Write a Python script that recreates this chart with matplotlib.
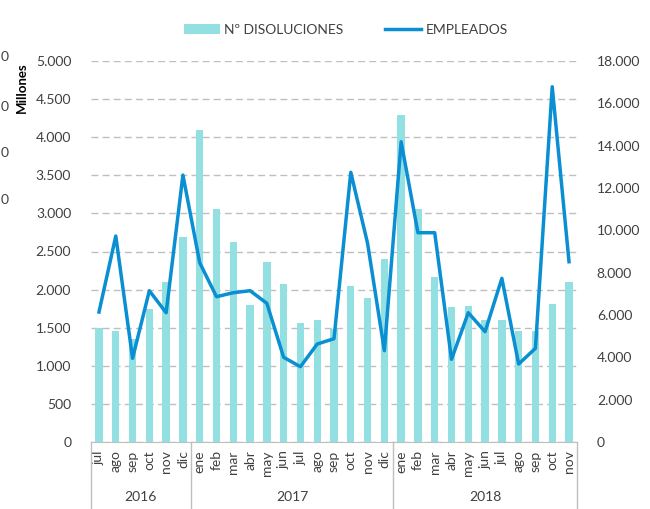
import matplotlib
matplotlib.use("Agg")
import matplotlib.pyplot as plt
from matplotlib.ticker import FuncFormatter, MultipleLocator
from matplotlib.transforms import blended_transform_factory
from matplotlib.patches import Patch
from matplotlib.lines import Line2D

plt.rcParams['font.family'] = ['Lato', 'DejaVu Sans']

months = ["jul", "ago", "sep", "oct", "nov", "dic",
          "ene", "feb", "mar", "abr", "may", "jun", "jul", "ago", "sep", "oct", "nov", "dic",
          "ene", "feb", "mar", "abr", "may", "jun", "jul", "ago", "sep", "oct", "nov"]
years = ["2016", "2017", "2018"]
year_counts = [6, 12, 11]

disoluciones = [1500, 1457, 1348, 1741, 2096, 2690,
                4094, 3062, 2621, 1798, 2362, 2073, 1558, 1605, 1480, 2047, 1894, 2402,
                4295, 3058, 2161, 1768, 1781, 1605, 1605, 1453, 1453, 1815, 2104]
empleados = [6141, 9731, 3953, 7147, 6108, 12612,
             8470, 6864, 7053, 7147, 6552, 4001, 3557, 4629, 4880, 12740, 9386, 4313,
             14185, 9887, 9887, 3906, 6108, 5210, 7732, 3684, 4426, 16783, 8517]

bar_color = "#93E0E3"
line_color = "#0A8FD2"
text_color = "#404040"
grid_color = "#BFBFBF"

fig = plt.figure(figsize=(6.5, 5.09), dpi=100)
ax = fig.add_axes([90.6/650, 1-442/509, (577.4-90.6)/650, (442-61)/509])
x = list(range(len(months)))

ax.bar(x, disoluciones, width=0.44, color=bar_color, zorder=2)
ax.set_xlim(-0.5, len(months)-0.5)
ax.set_ylim(0, 5000)
ax.yaxis.set_major_locator(MultipleLocator(500))
fmt = FuncFormatter(lambda v, p: f"{int(v):,}".replace(",", "."))
ax.yaxis.set_major_formatter(fmt)
ax.grid(axis='y', color=grid_color, linestyle=(0, (5, 3)), linewidth=1, zorder=0)
ax.set_axisbelow(True)
for s in ["top", "right", "left"]:
    ax.spines[s].set_visible(False)
ax.spines["bottom"].set_color(grid_color)
ax.tick_params(axis='y', length=0, pad=14, labelsize=10, labelcolor=text_color)
ax.set_xticks(x)
ax.set_xticklabels(months, rotation=90)
ax.tick_params(axis='x', length=0, pad=6, labelsize=10, labelcolor=text_color)

ax2 = ax.twinx()
ax2.plot(x, empleados, color=line_color, linewidth=2.5, zorder=3)
ax2.set_ylim(0, 18000)
ax2.yaxis.set_major_locator(MultipleLocator(2000))
ax2.yaxis.set_major_formatter(fmt)
for s in ["top", "right", "left", "bottom"]:
    ax2.spines[s].set_visible(False)
ax2.tick_params(axis='y', length=0, pad=14, labelsize=10, labelcolor=text_color)

# two-level category axis
tr = blended_transform_factory(ax.transData, ax.transAxes)
start = -0.5
bounds = [start]
for yr, n in zip(years, year_counts):
    end = start + n
    ax.text((start + end) / 2, -0.145, yr, transform=tr, ha='center', va='center',
            fontsize=10, color=text_color)
    bounds.append(end)
    start = end
for b in bounds:
    ax.plot([b, b], [0, -0.18], transform=tr, color=grid_color, linewidth=1, clip_on=False)

handles = [Patch(facecolor=bar_color, edgecolor='none'),
           Line2D([0], [0], color=line_color, linewidth=2.5)]
fig.legend(handles, ["Nº DISOLUCIONES", "EMPLEADOS"], loc='center', ncol=2,
           bbox_to_anchor=(346/650, 1-30/509), frameon=False, fontsize=10,
           handlelength=2.6, columnspacing=3.0, handletextpad=0.3,
           labelcolor=text_color)

# elements at the left edge
fig.text(22/650, 1-88/509, "Millones", rotation=90, ha='center', va='center',
         fontsize=9.5, fontweight='bold', color='black')
for yy in [57, 107, 153, 200]:
    fig.text(1/650, 1-yy/509, "0", ha='left', va='center', fontsize=10, color=text_color)

fig.savefig("out.png", dpi=100)
